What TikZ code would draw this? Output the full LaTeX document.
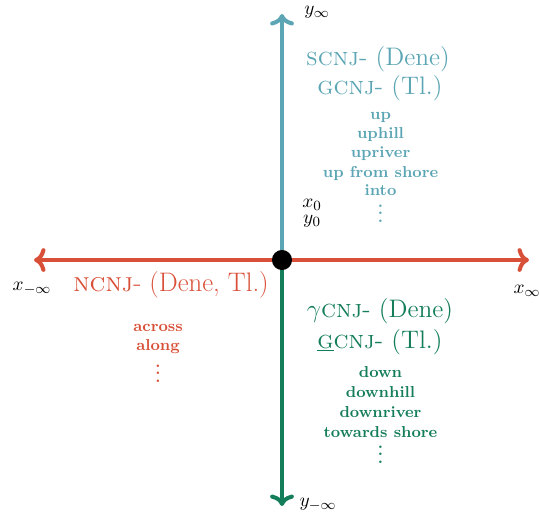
\documentclass[tikz,border=0pt]{standalone}
\usetikzlibrary{arrows.meta}
\definecolor{cred}{HTML}{D95038}
\definecolor{cteal}{HTML}{5BA5B4}
\definecolor{cgreen}{HTML}{147D5A}
\tikzset{
  tip/.tip={To[length=6.5pt,width=13.5pt]},
  axis/.style={line width=2.3pt, -tip},
  big/.style={anchor=base, inner sep=0pt, font=\fontsize{14.4}{17}\selectfont},
  lst/.style={anchor=base, inner sep=0pt, font=\fontsize{9}{11}\selectfont\bfseries},
  dts/.style={anchor=base, inner sep=0pt, text height=5pt, text depth=0pt, font=\fontsize{9}{11}\selectfont\bfseries},
  lbl/.style={inner sep=0pt, font=\fontsize{10.95}{13.6}\selectfont},
}
\begin{document}
\begin{tikzpicture}[x=0.568pt, y=-0.568pt]
\useasboundingbox (0,0) rectangle (539,514);
\coordinate (O) at (282,260);
\coordinate (L) at (34,260);
\coordinate (R) at (529,260);
\coordinate (T) at (282,14);
\coordinate (B) at (282,506);
\draw[axis, cred, tip-tip] (L) -- (R);
\draw[axis, cteal] (O) -- (T);
\draw[axis, cgreen] (O) -- (B);
\node[circle, fill=black, inner sep=0pt, minimum size=11.4pt] (dot) at (O) {};
% axis labels
\node[lbl] (yinf) at (317,12) {$y_\infty$};
\node[lbl] (yminf) at (318,505) {$y_{-\infty}$};
\node[lbl] (xminf) at (32,289) {$x_{-\infty}$};
\node[lbl] (xinf) at (527,291) {$x_\infty$};
\node[lbl] (x0) at (312,205) {$x_0$};
\node[lbl] (y0) at (312,221) {$y_0$};
% teal (up)
\node[big, cteal] (sc) at (378,65) {\textsc{scnj}- (Dene)};
\node[big, cteal] (gc) at (380,94) {\textsc{gcnj}- (Tl.)};
\foreach \t/\y [count=\i] in {up/119, uphill/138, upriver/157, up from shore/177, into/195}
  \node[lst, cteal] (u\i) at (380.5,\y) {\t};
\node[dts, cteal] (udots) at (380.5,222) {$\vdots$};
% red (across)
\node[big, cred, font=\fontsize{15.2}{18}\selectfont] (nc) at (171,291) {\textsc{ncnj}- (Dene, Tl.)};
\node[lst, cred] (a1) at (158,331) {across};
\node[lst, cred] (a2) at (158,350) {along};
\node[dts, cred] (adots) at (158,382) {$\vdots$};
% green (down)
\node[big, cgreen] (gam) at (380,317) {$\gamma$\textsc{cnj}- (Dene)};
\node[big, cgreen] (gbar) at (380,348) {\underline{\textsc{g}}\textsc{cnj}- (Tl.)};
\foreach \t/\y [count=\i] in {down/377, downhill/397, downriver/417, towards shore/437}
  \node[lst, cgreen] (d\i) at (380.5,\y) {\t};
\node[dts, cgreen] (ddots) at (380.5,463) {$\vdots$};
\end{tikzpicture}
\end{document}
